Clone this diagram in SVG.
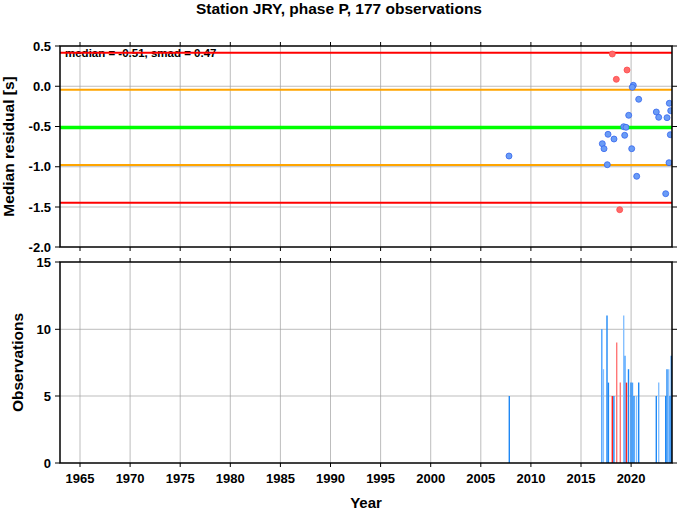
<svg xmlns="http://www.w3.org/2000/svg" width="678" height="511" viewBox="0 0 678 511">
<style>
text{font-family:"Liberation Sans",Arial,sans-serif;font-weight:bold;fill:#000}
.tl{font-size:13px}
.grid{stroke:#a0a0a0;stroke-width:0.7;fill:none}
.frame{stroke:#000;stroke-width:1.5;fill:none}
.tick{stroke:#000;stroke-width:1;fill:none}
.pb{fill:#6a9cf6;stroke:#3566ee;stroke-width:0.8}
.pr{fill:#ff6a6a;stroke:#ff4a4a;stroke-width:0.8}
.b1{stroke:#1e88f5;stroke-width:1.4}
.b2{stroke:#4aa2ff;stroke-width:1.4}
.b3{stroke:#86c0ff;stroke-width:1.4}
.r1{stroke:#ff2020;stroke-width:1.4}
.r2{stroke:#ff7878;stroke-width:1.4}
</style>
<defs>
<clipPath id="c1"><rect x="60" y="46" width="612" height="201"/></clipPath>
<clipPath id="c2"><rect x="60" y="262" width="612" height="201"/></clipPath>
</defs>
<rect width="678" height="511" fill="#fff"/>
<text x="339" y="13.5" font-size="15.5" text-anchor="middle">Station JRY, phase P, 177 observations</text>

<g id="top-panel">
<g class="grid">
<path d="M80,46V247M130.1,46V247M180.2,46V247M230.3,46V247M280.4,46V247M330.5,46V247M380.6,46V247M430.7,46V247M480.8,46V247M530.9,46V247M581,46V247M631.1,46V247"/>
<path d="M60,86.25H672M60,126.5H672M60,166.75H672M60,207H672"/>
</g>
<text x="65" y="57" font-size="11.5">median = -0.51, smad = 0.47</text>
<g clip-path="url(#c1)">
<line x1="60" x2="672" y1="52.7" y2="52.7" stroke="#ff0000" stroke-width="2"/>
<line x1="60" x2="672" y1="89.7" y2="89.7" stroke="#ffa500" stroke-width="2"/>
<line x1="60" x2="672" y1="127.5" y2="127.5" stroke="#00ff00" stroke-width="3.6"/>
<line x1="60" x2="672" y1="165" y2="165" stroke="#ffa500" stroke-width="2"/>
<line x1="60" x2="672" y1="202.7" y2="202.7" stroke="#ff0000" stroke-width="2"/>
<g id="points">
<circle class="pr" cx="612.3" cy="54" r="3"/>
<circle class="pr" cx="627" cy="70" r="3"/>
<circle class="pr" cx="616.3" cy="79.3" r="3"/>
<circle class="pr" cx="619.7" cy="209.7" r="3"/>
<circle class="pb" cx="509" cy="156" r="3"/>
<circle class="pb" cx="633.3" cy="85.3" r="3"/>
<circle class="pb" cx="632.3" cy="87.3" r="3"/>
<circle class="pb" cx="638.7" cy="99.3" r="3"/>
<circle class="pb" cx="669.3" cy="103.3" r="3"/>
<circle class="pb" cx="670.7" cy="110.7" r="3"/>
<circle class="pb" cx="656.3" cy="112" r="3"/>
<circle class="pb" cx="658.7" cy="117.3" r="3"/>
<circle class="pb" cx="667" cy="117.7" r="3"/>
<circle class="pb" cx="628.7" cy="115.3" r="3"/>
<circle class="pb" cx="623.7" cy="126.7" r="3"/>
<circle class="pb" cx="626" cy="127.3" r="3"/>
<circle class="pb" cx="608" cy="134.3" r="3"/>
<circle class="pb" cx="624.7" cy="135.3" r="3"/>
<circle class="pb" cx="614" cy="139" r="3"/>
<circle class="pb" cx="602.3" cy="143.7" r="3"/>
<circle class="pb" cx="604" cy="148.7" r="3"/>
<circle class="pb" cx="631.7" cy="148.7" r="3"/>
<circle class="pb" cx="670.3" cy="134.7" r="3"/>
<circle class="pb" cx="607.3" cy="164.7" r="3"/>
<circle class="pb" cx="669" cy="162.7" r="3"/>
<circle class="pb" cx="636.7" cy="176.3" r="3"/>
<circle class="pb" cx="665.7" cy="193.7" r="3"/>
</g>
</g>
<rect class="frame" x="60" y="46" width="612" height="201"/>
<g class="tick">
<path d="M55,46H60M55,86.25H60M55,126.5H60M55,166.75H60M55,207H60M55,247H60"/>
<path d="M672,46H677M672,86.25H677M672,126.5H677M672,166.75H677M672,207H677M672,247H677"/>
<path d="M80,46V42M130.1,46V42M180.2,46V42M230.3,46V42M280.4,46V42M330.5,46V42M380.6,46V42M430.7,46V42M480.8,46V42M530.9,46V42M581,46V42M631.1,46V42"/>
<path d="M80,247V251M130.1,247V251M180.2,247V251M230.3,247V251M280.4,247V251M330.5,247V251M380.6,247V251M430.7,247V251M480.8,247V251M530.9,247V251M581,247V251M631.1,247V251"/>
</g>
<g class="tl" text-anchor="end">
<text x="51" y="50.5">0.5</text>
<text x="51" y="90.75">0.0</text>
<text x="51" y="131">-0.5</text>
<text x="51" y="171.25">-1.0</text>
<text x="51" y="211.5">-1.5</text>
<text x="51" y="251.5">-2.0</text>
</g>
<text transform="translate(14,146.5) rotate(-90)" font-size="15.5" text-anchor="middle">Median residual [s]</text>
</g>

<g id="bottom-panel">
<g class="grid">
<path d="M80,262V463M130.1,262V463M180.2,262V463M230.3,262V463M280.4,262V463M330.5,262V463M380.6,262V463M430.7,262V463M480.8,262V463M530.9,262V463M581,262V463M631.1,262V463"/>
<path d="M60,329.3H672M60,396H672"/>
</g>
<g id="bars" clip-path="url(#c2)">
<line class="b1" x1="509.3" x2="509.3" y1="463" y2="396"/>
<line class="b2" x1="601.8" x2="601.8" y1="463" y2="329"/>
<line class="b3" x1="603.4" x2="603.4" y1="463" y2="369.2"/>
<line class="b1" x1="607" x2="607" y1="463" y2="315.6"/>
<line class="b1" x1="608.4" x2="608.4" y1="463" y2="382.6"/>
<line class="r1" x1="612.3" x2="612.3" y1="463" y2="396"/>
<line class="b1" x1="613.9" x2="613.9" y1="463" y2="396"/>
<line class="r2" x1="616.7" x2="616.7" y1="463" y2="342.4"/>
<line class="r2" x1="620.3" x2="620.3" y1="463" y2="382.6" stroke-width="2.4"/>
<line class="b3" x1="623.7" x2="623.7" y1="463" y2="315.6"/>
<line class="b2" x1="625" x2="625" y1="463" y2="355.8"/>
<line class="r1" x1="626.5" x2="626.5" y1="463" y2="382.6"/>
<line class="b1" x1="628.5" x2="628.5" y1="463" y2="369.2"/>
<line class="b1" x1="631" x2="631" y1="463" y2="382.6"/>
<line class="b2" x1="632.5" x2="632.5" y1="463" y2="382.6"/>
<line class="b1" x1="634" x2="634" y1="463" y2="396"/>
<line class="b3" x1="636.5" x2="636.5" y1="463" y2="396"/>
<line class="b1" x1="638.7" x2="638.7" y1="463" y2="382.6"/>
<line class="b1" x1="656.3" x2="656.3" y1="463" y2="396"/>
<line class="b3" x1="658.7" x2="658.7" y1="463" y2="382.6"/>
<line class="b1" x1="665.7" x2="665.7" y1="463" y2="396"/>
<line class="b1" x1="667" x2="667" y1="463" y2="369.2"/>
<line class="b3" x1="668.7" x2="668.7" y1="463" y2="369.2"/>
<line class="b1" x1="670" x2="670" y1="463" y2="396"/>
<line class="b1" x1="671.3" x2="671.3" y1="463" y2="355.8"/>
</g>
<rect class="frame" x="60" y="262" width="612" height="201"/>
<g class="tick">
<path d="M55,262H60M55,329.3H60M55,396H60M55,463H60"/>
<path d="M672,262H677M672,329.3H677M672,396H677M672,463H677"/>
<path d="M80,262V258M130.1,262V258M180.2,262V258M230.3,262V258M280.4,262V258M330.5,262V258M380.6,262V258M430.7,262V258M480.8,262V258M530.9,262V258M581,262V258M631.1,262V258"/>
<path d="M80,463V467M130.1,463V467M180.2,463V467M230.3,463V467M280.4,463V467M330.5,463V467M380.6,463V467M430.7,463V467M480.8,463V467M530.9,463V467M581,463V467M631.1,463V467"/>
</g>
<g class="tl" text-anchor="end">
<text x="51" y="266.5">15</text>
<text x="51" y="333.8">10</text>
<text x="51" y="400.5">5</text>
<text x="51" y="467.5">0</text>
</g>
<g class="tl" text-anchor="middle">
<text x="80" y="483">1965</text>
<text x="130.1" y="483">1970</text>
<text x="180.2" y="483">1975</text>
<text x="230.3" y="483">1980</text>
<text x="280.4" y="483">1985</text>
<text x="330.5" y="483">1990</text>
<text x="380.6" y="483">1995</text>
<text x="430.7" y="483">2000</text>
<text x="480.8" y="483">2005</text>
<text x="530.9" y="483">2010</text>
<text x="581" y="483">2015</text>
<text x="631.1" y="483">2020</text>
</g>
<text transform="translate(22.5,362.5) rotate(-90)" font-size="15.5" text-anchor="middle">Observations</text>
<text x="366" y="508" font-size="15" text-anchor="middle">Year</text>
</g>
</svg>
